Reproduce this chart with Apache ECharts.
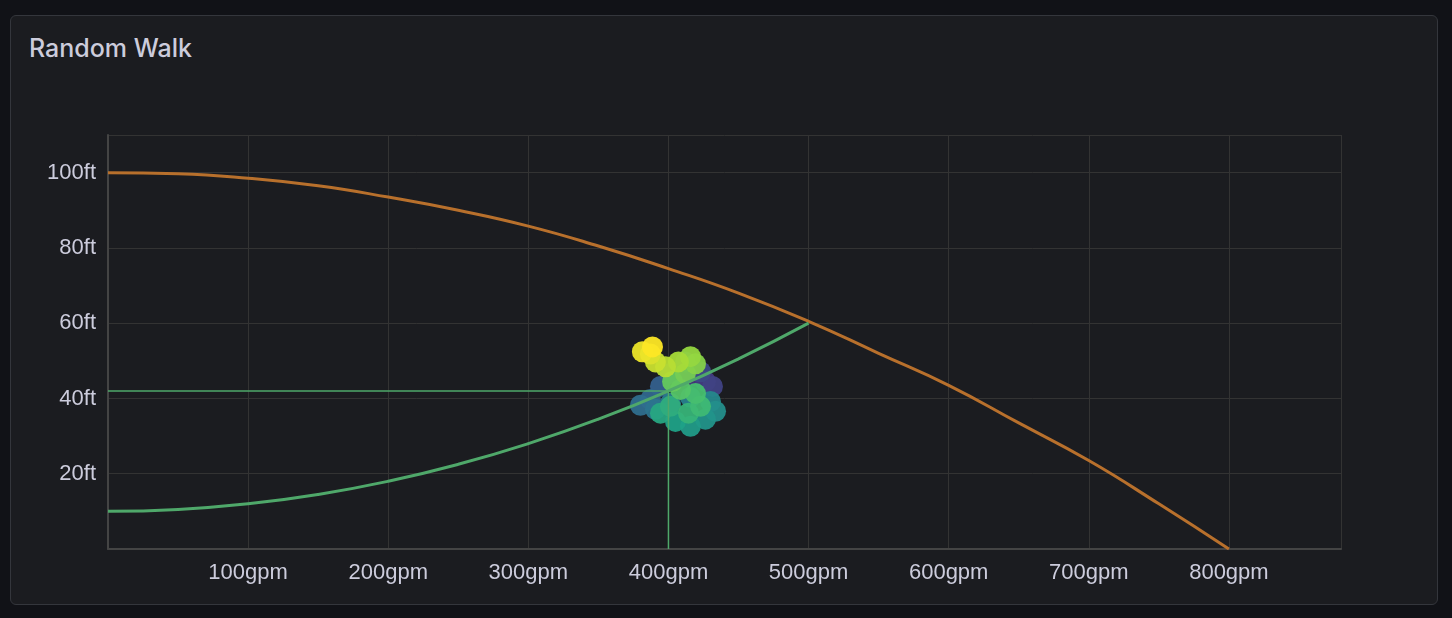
<!DOCTYPE html>
<html>
<head>
<meta charset="utf-8">
<script src="https://cdn.jsdelivr.net/npm/echarts@6/dist/echarts.min.js"></script>
<style>
  html, body { margin: 0; padding: 0; background: #111217; }
  #panel { position: absolute; left: 10px; top: 15px; width: 1428px; height: 590px;
    background: #1b1c20; border: 1px solid #34363c; border-radius: 6px; box-sizing: border-box; }
  #title { position: absolute; left: 18px; top: 17px; color: #ccccdc;
    font: 500 25px Inter, "Liberation Sans", Arial, sans-serif; }
  #chart { position: absolute; left: 0; top: 0; width: 1452px; height: 618px; }
</style>
</head>
<body>
<div id="panel"><div id="title">Random Walk</div></div>
<div id="chart"></div>
<script>
// pump curve (gpm, ft)
var pumpFlow = [0, 50, 100, 150, 200, 250, 300, 350, 400, 450, 500, 550, 600, 650, 700, 750, 800]
var pumpHead = [100, 99.7, 98.5, 96.5, 93.5, 90, 85.8, 80.5, 74.5, 68, 60.5, 52, 43.5, 33.5, 23.5, 12, 0]
// system curve
var sysFlow = [0, 50, 100, 150, 200, 250, 300, 350, 400, 450, 500]
var sysHead = [10, 10.5, 12, 14.5, 18, 22.5, 28, 34.5, 42, 50.5, 60]
// operating point
var opFlow = 400
var opHead = 42
// random walk samples
var walkFlow = [415.7, 426.4, 431.4, 422.9, 412.1, 401.4, 394.3, 387.1, 380, 390.7, 401.4, 415.7,
  430, 433.6, 426.4, 415.7, 405, 394.3, 401.4, 414.3, 422.9, 419.3, 408.6, 402.9, 412.1, 419.3,
  415.7, 407.1, 397.9, 390.7, 387.1, 381.4, 388.6]
var walkHead = [45.8, 44.5, 43.2, 47.1, 49.7, 46.6, 43.2, 39.7, 38.2, 37.1, 38.7, 40.3,
  39.2, 36.6, 34.5, 32.6, 33.9, 36.1, 37.9, 36.1, 37.9, 41.3, 42.4, 44.5, 46.6, 49.2,
  51.1, 49.7, 48.4, 49.7, 51.8, 52.4, 53.7]

function zip(a, b) { return a.map(function (v, i) { return [v, b[i]] }) }

var chart = echarts.init(document.getElementById('chart'))
var txt = { color: '#ccccdc', fontSize: 22, fontFamily: '"Liberation Sans", Arial, sans-serif' }
chart.setOption({
  animation: false,
  grid: { left: 108, right: 111, top: 135, bottom: 69 },
  xAxis: {
    type: 'value', min: 0, max: 880, interval: 100,
    axisLine: { lineStyle: { color: '#444', width: 2 } },
    axisTick: { show: false },
    splitLine: { lineStyle: { color: '#333' } },
    axisLabel: Object.assign({ margin: 13,
      formatter: function (v) { return (v === 0 || v > 800) ? '' : v + 'gpm' } }, txt)
  },
  yAxis: {
    type: 'value', min: 0, max: 110, interval: 20,
    axisLine: { show: true, lineStyle: { color: '#444', width: 2 } },
    axisTick: { show: false },
    splitLine: { lineStyle: { color: '#333' } },
    axisLabel: Object.assign({ margin: 12,
      formatter: function (v) { return (v === 0 || v > 100) ? '' : v + 'ft' } }, txt)
  },
  visualMap: {
    show: false, seriesIndex: 4, dimension: 2, min: 0, max: walkFlow.length - 1,
    inRange: { color: ['#46327e', '#365c8d', '#277f8e', '#1fa187', '#4ac16d', '#a0da39', '#fde725'] }
  },
  series: [
    { type: 'line', data: zip(pumpFlow, pumpHead), smooth: true, symbol: 'none',
      lineStyle: { color: '#b8702c', width: 3 } },
    { type: 'line', data: zip(sysFlow, sysHead), smooth: true, symbol: 'none',
      lineStyle: { color: '#4fa86a', width: 3 } },
    { type: 'line', data: [[0, opHead], [opFlow, opHead]], symbol: 'none',
      lineStyle: { color: '#4fa86a', width: 1.5 } },
    { type: 'line', data: [[opFlow, opHead], [opFlow, 0]], symbol: 'none',
      lineStyle: { color: '#4fa86a', width: 1.5 } },
    { type: 'scatter', symbolSize: 21,
      data: walkFlow.map(function (v, i) { return [v, walkHead[i], i] }),
      itemStyle: { opacity: 0.95 } }
  ]
})
</script>
</body>
</html>
